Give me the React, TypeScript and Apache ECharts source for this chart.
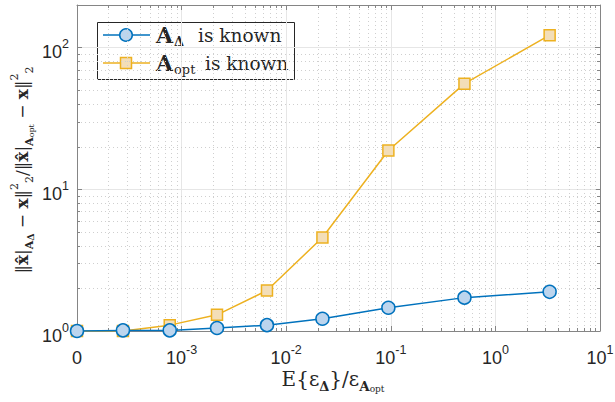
import React, { useEffect, useRef } from "react";
import * as echarts from "echarts";

// ---- data ----
const NAME_DELTA = "AΔ is known";
const NAME_OPT = "Aopt is known";
// x = 0 is drawn at the left end of the log axis (labelled "0")
const epsRatio = [0, 2.75e-4, 7.7e-4, 2.18e-3, 6.55e-3, 0.0222, 0.0948, 0.506, 3.3];
const aDeltaKnown = [1.0, 1.01, 1.01, 1.05, 1.1, 1.22, 1.46, 1.72, 1.89];
const aOptKnown = [1.0, 1.0, 1.1, 1.3, 1.93, 4.57, 18.8, 55.7, 122.4];

const X_MIN = 1e-4; // position of the "0" tick
const X_MAX = 10;
const Y_MIN = 1;
const Y_MAX = 200;
// tick labels: base "10" with exponent; null exponent = plain "0"
const X_TICK_VALUES = [1e-4, 1e-3, 1e-2, 1e-1, 1, 10];
const X_TICK_EXP: (string | null)[] = [null, "-3", "-2", "-1", "0", "1"];
const Y_TICK_VALUES = [1, 10, 100];
const Y_TICK_EXP = ["0", "1", "2"];
const X_DECADES = [-4, -3, -2, -1, 0];
const Y_DECADES = [0, 1];
const MINOR_MULT = [2, 3, 4, 5, 6, 7, 8, 9];

// ---- styles ----
const SANS = "Liberation Sans";
const SERIF = "DejaVu Serif";
const AXIS_COLOR = "#858585";
const LABEL_COLOR = "#262626";
const MAJOR_GRID = "#e6e6e6";
const MINOR_GRID = "#cfcfcf";
const BLUE = "#0072BD";
const BLUE_FILL = "#BCD5EE";
const YELLOW = "#EDB120";
const YELLOW_FILL = "#F3DEB8";
const BASE_SIZE = 18;
const EXP_SIZE = 12.5;

const minorX: number[] = [];
X_DECADES.forEach((d) => MINOR_MULT.forEach((k) => minorX.push(k * Math.pow(10, d))));
const minorY: number[] = [];
Y_DECADES.forEach((d) => MINOR_MULT.forEach((k) => minorY.push(k * Math.pow(10, d))));

const tok = (family: string, size: number, lineHeight: number, extra: any = {}) => ({
  fontFamily: family,
  fontSize: size,
  lineHeight,
  fill: LABEL_COLOR,
  ...extra,
});

// approximate advance widths of Liberation Sans
const expWidth = (e: string) => e.split("").reduce((w, c) => w + (c === "-" ? 0.333 : 0.556) * EXP_SIZE, 0);
const BASE_W = 2 * 0.556 * BASE_SIZE;

const plainText = (x: number, y: number, text: string, size: number, family: string, align: string, weight = "normal") => ({
  type: "text",
  x,
  y,
  silent: true,
  style: {
    text,
    x: 0,
    y: 0,
    fontSize: size,
    fontFamily: family,
    fontWeight: weight,
    fill: LABEL_COLOR,
    align,
    verticalAlign: "middle",
  },
});

// tick label at anchor (ax, ay); mode center (x axis) or right (y axis)
function tickLabel(ax: number, ay: number, e: string | null, mode: "center" | "right") {
  if (e === null) return { type: "group", children: [plainText(ax, ay, "0", BASE_SIZE, SANS, "center")] };
  const ew = expWidth(e);
  const joint = mode === "center" ? ax - (BASE_W + ew) / 2 + BASE_W : ax - ew;
  return {
    type: "group",
    children: [
      plainText(joint, ay, "10", BASE_SIZE, SANS, "right"),
      plainText(joint, ay - 8, e, EXP_SIZE, SANS, "left"),
    ],
  };
}

const px = (v: number) => Math.round(v) + 0.5;

export default function App() {
  const ref = useRef<HTMLDivElement>(null);
  useEffect(() => {
    document.body.style.margin = "0";
    const chart = echarts.init(ref.current!, undefined, { renderer: "svg" });

    const lineData = (ys: number[]) => epsRatio.map((x, i) => [x === 0 ? X_MIN : x, ys[i]]);

    const mkAxis = (extra: any) => ({
      type: "log",
      logBase: 10,
      axisLine: { show: true, lineStyle: { color: AXIS_COLOR, width: 1 } },
      axisTick: { show: true, inside: true, length: 5, lineStyle: { color: AXIS_COLOR } },
      axisLabel: { show: false },
      ...extra,
    });

    // legend drawn as decoration (icons + text)
    const legendRow = (cy: number, color: string, fill: string, isCircle: boolean, sub: string, subBold: boolean, textX: number) => [
      { type: "line", shape: { x1: 103, y1: cy, x2: 150, y2: cy }, style: { stroke: color, lineWidth: 1.5, lineDash: [1000, 0] } },
      isCircle
        ? { type: "circle", shape: { cx: 126, cy, r: 6.3 }, style: { fill, stroke: color, lineWidth: 1.5, lineDash: [1000, 0] } }
        : { type: "rect", shape: { x: 120.5, y: cy - 5.5, width: 11, height: 11 }, style: { fill, stroke: color, lineWidth: 1.5, lineDash: [1000, 0] } },
      plainText(156, cy, "A", 22, SERIF, "left", "bold"),
      plainText(174, cy + 6, sub, 13, SERIF, "left", subBold ? "bold" : "normal"),
      plainText(textX, cy, "is known", 18.5, SERIF, "left"),
    ];

    const option: any = {
      animation: false,
      backgroundColor: "#ffffff",
      grid: { left: 77, right: 15, top: 5, bottom: 71, containLabel: false },
      xAxis: [
        mkAxis({ min: X_MIN, max: X_MAX, splitNumber: 5, splitLine: { show: true, lineStyle: { color: MAJOR_GRID, width: 1 } } }),
        mkAxis({ position: "top", min: X_MIN, max: X_MAX, splitNumber: 5, splitLine: { show: false } }),
      ],
      yAxis: [
        mkAxis({ min: Y_MIN, max: Y_MAX, splitNumber: 3, splitLine: { show: true, lineStyle: { color: MAJOR_GRID, width: 1 } } }),
        mkAxis({ position: "right", min: Y_MIN, max: Y_MAX, splitNumber: 3, splitLine: { show: false } }),
      ],
      graphic: [
        {
          type: "group",
          z: 100,
          children: [
            {
              type: "rect",
              shape: { x: 97.5, y: 22.5, width: 197, height: 57 },
              style: { fill: "#ffffff", stroke: "#262626", lineWidth: 1, lineDash: [1000, 0] },
            },
            ...legendRow(35, BLUE, BLUE_FILL, true, "Δ", true, 198),
            ...legendRow(63, YELLOW, YELLOW_FILL, false, "opt", false, 205),
          ],
        },
        {
          type: "text",
          x: 22,
          y: 170,
          rotation: Math.PI / 2,
          style: {
            text:
              "{n|‖}{bx|x̂}{n||}{sb|A}{sd|Δ}{n| − }{bx|x}{n|‖}{sp|2}{sl|2}{n|/‖}{bx|x̂}{n||}{sb|A}{so|opt}{n| − }{bx|x}{n|‖}{sp|2}{sl|2}",
            align: "center",
            verticalAlign: "middle",
            fill: LABEL_COLOR,
            fontFamily: SERIF,
            fontSize: 17,
            rich: {
              n: tok(SERIF, 17, 26),
              bx: tok(SERIF, 17, 26, { fontWeight: "bold" }),
              sb: tok(SERIF, 11, 16, { fontWeight: "bold", verticalAlign: "bottom" }),
              sd: tok(SERIF, 9, 12, { fontWeight: "bold", verticalAlign: "bottom" }),
              so: tok(SERIF, 8, 12, { verticalAlign: "bottom" }),
              sp: tok(SERIF, 11, 14, { verticalAlign: "top" }),
              sl: tok(SERIF, 11, 16, { verticalAlign: "bottom" }),
            },
          },
        },
        {
          type: "text",
          x: 333,
          y: 379,
          style: {
            text: "{n|E{ε}{sd|Δ}}{n|/ε}{sb|A}{so|opt}",
            align: "center",
            verticalAlign: "middle",
            fill: LABEL_COLOR,
            fontFamily: SERIF,
            fontSize: 20,
            rich: {
              n: tok(SERIF, 20, 28),
              sd: tok(SERIF, 13, 18, { fontWeight: "bold", verticalAlign: "bottom" }),
              sb: tok(SERIF, 13.5, 18, { fontWeight: "bold", verticalAlign: "bottom" }),
              so: tok(SERIF, 9, 13, { verticalAlign: "bottom" }),
            },
          },
        },
      ],
      series: [
        // minor x grid + minor ticks
        {
          type: "custom",
          silent: true,
          z: 1,
          clip: false,
          data: minorX.map((v) => [v, Y_MIN]),
          encode: { x: 0, y: 1 },
          renderItem: (_p: any, api: any) => {
            const v = api.value(0);
            const b = api.coord([v, Y_MIN]);
            const t = api.coord([v, Y_MAX]);
            const x = px(b[0]);
            return {
              type: "group",
              children: [
                { type: "line", shape: { x1: x, y1: t[1], x2: x, y2: b[1] }, style: { stroke: MINOR_GRID, lineWidth: 1, lineDash: [1, 3] } },
                { type: "line", shape: { x1: x, y1: b[1], x2: x, y2: b[1] - 3 }, style: { stroke: AXIS_COLOR, lineWidth: 1 } },
                { type: "line", shape: { x1: x, y1: t[1], x2: x, y2: t[1] + 3 }, style: { stroke: AXIS_COLOR, lineWidth: 1 } },
              ],
            };
          },
        },
        // minor y grid + minor ticks
        {
          type: "custom",
          silent: true,
          z: 1,
          clip: false,
          data: minorY.map((v) => [X_MIN, v]),
          encode: { x: 0, y: 1 },
          renderItem: (_p: any, api: any) => {
            const v = api.value(1);
            const l = api.coord([X_MIN, v]);
            const r = api.coord([X_MAX, v]);
            const y = px(l[1]);
            return {
              type: "group",
              children: [
                { type: "line", shape: { x1: l[0], y1: y, x2: r[0], y2: y }, style: { stroke: MINOR_GRID, lineWidth: 1, lineDash: [1, 3] } },
                { type: "line", shape: { x1: l[0], y1: y, x2: l[0] + 3, y2: y }, style: { stroke: AXIS_COLOR, lineWidth: 1 } },
                { type: "line", shape: { x1: r[0], y1: y, x2: r[0] - 3, y2: y }, style: { stroke: AXIS_COLOR, lineWidth: 1 } },
              ],
            };
          },
        },
        // x tick labels
        {
          type: "custom",
          silent: true,
          z: 5,
          clip: false,
          data: X_TICK_VALUES.map((v) => [v, Y_MIN]),
          encode: { x: 0, y: 1 },
          renderItem: (p: any, api: any) => {
            const c = api.coord([api.value(0), Y_MIN]);
            return tickLabel(c[0], c[1] + 27, X_TICK_EXP[p.dataIndex], "center");
          },
        },
        // y tick labels
        {
          type: "custom",
          silent: true,
          z: 5,
          clip: false,
          data: Y_TICK_VALUES.map((v) => [X_MIN, v]),
          encode: { x: 0, y: 1 },
          renderItem: (p: any, api: any) => {
            const c = api.coord([X_MIN, api.value(1)]);
            return tickLabel(c[0] - 8, c[1] + 4.5, Y_TICK_EXP[p.dataIndex], "right");
          },
        },
        {
          name: NAME_OPT,
          type: "line",
          z: 3,
          data: lineData(aOptKnown),
          symbol: "rect",
          symbolSize: 11,
          lineStyle: { color: YELLOW, width: 1.5 },
          itemStyle: { color: YELLOW_FILL, borderColor: YELLOW, borderWidth: 1.5 },
        },
        {
          name: NAME_DELTA,
          type: "line",
          z: 4,
          data: lineData(aDeltaKnown),
          symbol: "circle",
          symbolSize: 13,
          lineStyle: { color: BLUE, width: 1.5 },
          itemStyle: { color: BLUE_FILL, borderColor: BLUE, borderWidth: 1.5 },
        },
      ],
    };
    chart.setOption(option);
    return () => chart.dispose();
  }, []);
  return <div ref={ref} style={{ position: "absolute", left: 0, top: 0, width: 615, height: 402 }} />;
}
